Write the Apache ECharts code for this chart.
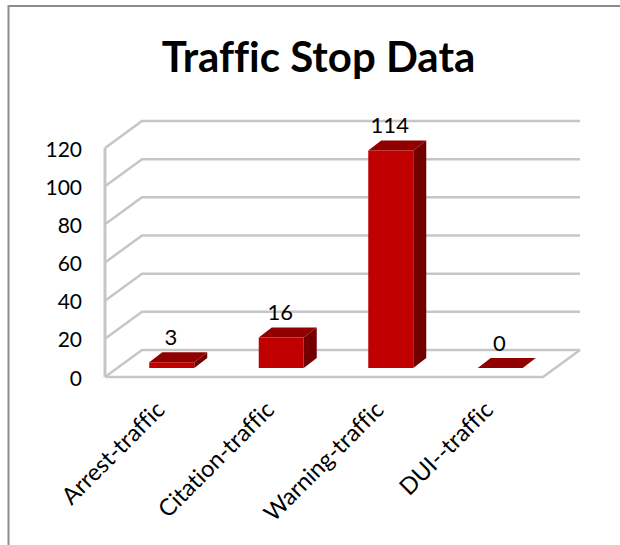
<!DOCTYPE html>
<html><head><meta charset="utf-8">
<style>html,body{margin:0;padding:0;background:#fff}#c{width:620px;height:545px}svg text{font-variant-ligatures:none}</style>
<script src="https://cdn.jsdelivr.net/npm/echarts@6/dist/echarts.min.js"></script>
</head><body><div id="c"></div>
<script>
const categories = ['Arrest-traffic','Citation-traffic','Warning-traffic','DUI--traffic'];
const stops = [3,16,114,0];
const yTicks = [0,20,40,60,80,100,120];
const title = 'Traffic Stop Data';

const DX = 37, DY = -27;          // wall depth
const BX = 12, BY = -9;           // bar front offset inside floor
const BW = 45, BDX = 13, BDY = -10; // bar width and depth
const FONT = 'Lato, "Open Sans", sans-serif';
const GRID = '#c6c6c6';

const chart = echarts.init(document.getElementById('c'), null, {renderer:'svg'});
chart.setOption({
  animation:false,
  backgroundColor:'#fff',
  title:{text:title,left:313.5,top:30,textAlign:'center',
    textStyle:{fontFamily:FONT,fontWeight:'bold',fontSize:42,color:'#000'}},
  grid:{left:105,right:77,top:148,bottom:168,containLabel:false},
  xAxis:{type:'category',data:categories,boundaryGap:true,
    axisTick:{show:false},
    axisLine:{show:false},
    axisLabel:{rotate:45,interval:0,margin:28,padding:[8,0,0,0],fontFamily:FONT,fontSize:23.5,color:'#000'}},
  yAxis:{type:'value',min:0,max:120,interval:20,
    splitLine:{show:false},axisTick:{show:false},axisLine:{show:false},
    axisLabel:{margin:23,fontFamily:FONT,fontSize:21,color:'#000'}},
  graphic:[{type:'polyline',silent:true,z:0,
    shape:{points:[[8.5,545],[8.5,6],[620,6]]},
    style:{stroke:'#8c8c8c',lineWidth:2,fill:null}}],
  series:[
    {type:'custom',coordinateSystem:'cartesian2d',z:1,silent:true,
     data:yTicks.map(v=>[0,v]),encode:{x:0,y:1},
     renderItem(params,api){
       const cs=params.coordSys, y=api.coord([0,api.value(1)])[1];
       const x0=cs.x, x1=cs.x+cs.width;
       const kids=[{type:'polyline',shape:{points:[[x0,y],[x0+DX,y+DY],[x1+DX,y+DY]]},
         style:{stroke:GRID,lineWidth:2.5,fill:null}}];
       if(api.value(1)===0){
         kids.push({type:'polyline',shape:{points:[[x0,y],[x1,y],[x1+DX,y+DY]]},
           style:{stroke:GRID,lineWidth:2.5,fill:null}});
         kids.push({type:'line',shape:{x1:x0,y1:y,x2:x0,y2:cs.y},
           style:{stroke:GRID,lineWidth:3}});
       }
       return {type:'group',children:kids};
     }},
    {type:'custom',coordinateSystem:'cartesian2d',z:2,silent:true,
     data:stops.map((v,i)=>[i,v]),encode:{x:0,y:1},
     renderItem(params,api){
       const top=api.coord([api.value(0),api.value(1)]);
       const base=api.coord([api.value(0),0]);
       const l=top[0]+BX-BW/2, r=l+BW, t=top[1]+BY, b=base[1]+BY;
       const kids=[
        {type:'polygon',shape:{points:[[r,t],[r+BDX,t+BDY],[r+BDX,b+BDY],[r,b]]},style:{fill:'#720000'}},
        {type:'polygon',shape:{points:[[l,t],[l+BDX,t+BDY],[r+BDX,t+BDY],[r,t]]},style:{fill:'#900000'}},
        {type:'rect',shape:{x:l,y:t,width:BW,height:Math.max(b-t,0)},style:{fill:'#c00000'}},
        {type:'text',x:(l+r)/2-1,y:t+BDY-16,style:{text:String(api.value(1)),fill:'#000',
          font:'22px '+FONT,textAlign:'center',textVerticalAlign:'middle'}}
       ];
       return {type:'group',children:kids};
     }}
  ]
});
</script></body></html>
